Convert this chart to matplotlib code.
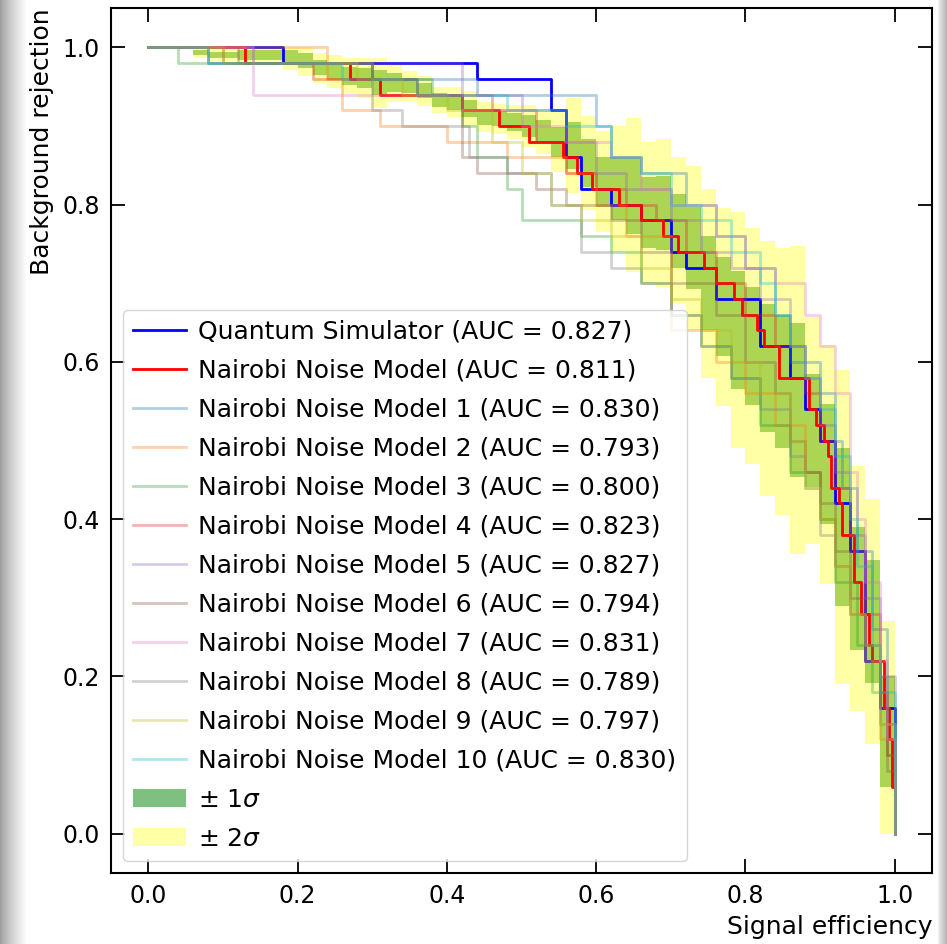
import numpy as np
import matplotlib
matplotlib.use("Agg")
import matplotlib.pyplot as plt

# ROC curves: signal efficiency where the rejection drops, and rejection after the drop
qs_eff = [0.0, 0.18, 0.44, 0.54, 0.56, 0.58, 0.62, 0.66, 0.70, 0.72, 0.76, 0.82, 0.86, 0.88,
          0.90, 0.92, 0.94, 0.96, 0.98, 1.0]
qs_rej = [1.0, 0.98, 0.96, 0.92, 0.86, 0.82, 0.80, 0.78, 0.74, 0.72, 0.68, 0.62, 0.58, 0.54,
          0.50, 0.42, 0.36, 0.22, 0.16, 0.0]

nm_eff = [0.0, 0.13, 0.27, 0.31, 0.42, 0.47, 0.51, 0.555, 0.575, 0.595, 0.63, 0.66, 0.69, 0.71,
          0.745, 0.76, 0.785, 0.795, 0.815, 0.825, 0.845, 0.885, 0.895, 0.905, 0.91, 0.915, 0.925,
          0.93, 0.945, 0.955, 0.965, 0.97, 0.985, 0.993, 0.997, 1.0]
nm_rej = [1.0, 0.98, 0.96, 0.94, 0.92, 0.90, 0.88, 0.86, 0.84, 0.82, 0.80, 0.78, 0.76, 0.74,
          0.72, 0.70, 0.68, 0.66, 0.64, 0.62, 0.58, 0.54, 0.52, 0.50, 0.48, 0.44, 0.42,
          0.38, 0.32, 0.28, 0.24, 0.22, 0.16, 0.12, 0.06, 0.0]

# the ten noise model runs
run_eff = [
    [0.0, 0.08, 0.30, 0.44, 0.60, 0.62, 0.66, 0.72, 0.76, 0.80, 0.84, 0.86, 0.90, 0.92, 0.93, 0.95, 0.97, 0.99, 1.0],
    [0.0, 0.24, 0.26, 0.31, 0.40, 0.48, 0.56, 0.60, 0.64, 0.70, 0.76, 0.80, 0.84, 0.88, 0.90, 0.92, 0.94, 0.96, 0.98, 1.0],
    [0.0, 0.04, 0.30, 0.38, 0.42, 0.44, 0.48, 0.50, 0.58, 0.62, 0.66, 0.70, 0.74, 0.78, 0.82, 0.86, 0.90, 0.92, 0.95, 0.97, 0.99, 1.0],
    [0.0, 0.10, 0.22, 0.36, 0.46, 0.52, 0.56, 0.60, 0.64, 0.68, 0.72, 0.76, 0.80, 0.84, 0.88, 0.90, 0.92, 0.94, 0.96, 0.98, 0.99, 1.0],
    [0.0, 0.14, 0.42, 0.50, 0.56, 0.60, 0.64, 0.70, 0.74, 0.78, 0.82, 0.86, 0.88, 0.90, 0.92, 0.94, 0.96, 0.98, 1.0],
    [0.0, 0.12, 0.30, 0.36, 0.42, 0.44, 0.52, 0.56, 0.62, 0.66, 0.70, 0.76, 0.80, 0.84, 0.86, 0.88, 0.90, 0.92, 0.94, 0.96, 0.98, 0.99, 1.0],
    [0.0, 0.14, 0.42, 0.50, 0.56, 0.62, 0.66, 0.70, 0.76, 0.80, 0.84, 0.88, 0.90, 0.92, 0.94, 0.95, 0.96, 0.98, 0.99, 1.0],
    [0.0, 0.08, 0.30, 0.34, 0.43, 0.48, 0.54, 0.58, 0.62, 0.66, 0.70, 0.74, 0.78, 0.82, 0.86, 0.88, 0.90, 0.92, 0.94, 0.96, 0.98, 1.0],
    [0.0, 0.10, 0.28, 0.34, 0.40, 0.46, 0.50, 0.54, 0.58, 0.62, 0.66, 0.70, 0.74, 0.78, 0.82, 0.86, 0.88, 0.90, 0.92, 0.94, 0.96, 0.98, 1.0],
    [0.0, 0.08, 0.26, 0.36, 0.48, 0.56, 0.62, 0.66, 0.70, 0.74, 0.78, 0.82, 0.84, 0.86, 0.88, 0.90, 0.92, 0.94, 0.95, 0.97, 0.98, 1.0],
]
run_rej = [
    [1.0, 0.98, 0.96, 0.94, 0.90, 0.86, 0.84, 0.80, 0.76, 0.72, 0.66, 0.60, 0.56, 0.50, 0.44, 0.36, 0.26, 0.14, 0.0],
    [1.0, 0.96, 0.92, 0.90, 0.88, 0.86, 0.84, 0.80, 0.76, 0.64, 0.60, 0.56, 0.52, 0.46, 0.40, 0.34, 0.28, 0.22, 0.12, 0.0],
    [1.0, 0.98, 0.96, 0.94, 0.90, 0.86, 0.82, 0.78, 0.76, 0.74, 0.70, 0.66, 0.62, 0.58, 0.52, 0.46, 0.40, 0.32, 0.24, 0.18, 0.10, 0.0],
    [1.0, 0.98, 0.96, 0.94, 0.92, 0.88, 0.84, 0.82, 0.80, 0.78, 0.74, 0.70, 0.66, 0.62, 0.56, 0.50, 0.44, 0.36, 0.28, 0.18, 0.10, 0.0],
    [1.0, 0.98, 0.94, 0.92, 0.88, 0.84, 0.82, 0.78, 0.74, 0.72, 0.68, 0.62, 0.58, 0.52, 0.46, 0.38, 0.30, 0.20, 0.0],
    [1.0, 0.98, 0.96, 0.94, 0.86, 0.84, 0.82, 0.80, 0.78, 0.74, 0.70, 0.66, 0.60, 0.56, 0.50, 0.46, 0.42, 0.36, 0.30, 0.24, 0.16, 0.08, 0.0],
    [1.0, 0.94, 0.92, 0.90, 0.88, 0.86, 0.82, 0.80, 0.76, 0.72, 0.70, 0.66, 0.62, 0.56, 0.46, 0.40, 0.32, 0.22, 0.12, 0.0],
    [1.0, 0.98, 0.92, 0.90, 0.86, 0.84, 0.80, 0.74, 0.72, 0.70, 0.66, 0.62, 0.58, 0.54, 0.48, 0.44, 0.38, 0.34, 0.28, 0.22, 0.14, 0.0],
    [1.0, 0.98, 0.96, 0.94, 0.92, 0.88, 0.84, 0.80, 0.78, 0.76, 0.72, 0.68, 0.64, 0.60, 0.56, 0.50, 0.44, 0.40, 0.34, 0.28, 0.24, 0.14, 0.0],
    [1.0, 0.98, 0.96, 0.94, 0.92, 0.90, 0.86, 0.84, 0.80, 0.78, 0.74, 0.70, 0.66, 0.62, 0.58, 0.54, 0.48, 0.40, 0.34, 0.24, 0.18, 0.0],
]
run_auc = [0.830, 0.793, 0.800, 0.823, 0.827, 0.794, 0.831, 0.789, 0.797, 0.830]
qs_auc = 0.827
nm_auc = 0.811

# band over the runs: mean rejection and spread, on a 0.02 efficiency grid
band_eff = np.round(np.arange(0, 1.0001, 0.02), 2)
band_mean = [1.000, 1.000, 1.000, 0.993, 0.990, 0.990, 0.990, 0.990, 0.990, 0.988,
             0.983, 0.974, 0.969, 0.964, 0.961, 0.955, 0.955, 0.951, 0.945, 0.933,
             0.930, 0.922, 0.911, 0.909, 0.905, 0.900, 0.893, 0.880, 0.875, 0.853,
             0.829, 0.820, 0.812, 0.790, 0.789, 0.767, 0.745, 0.700, 0.670, 0.640,
             0.620, 0.592, 0.575, 0.552, 0.513, 0.470, 0.390, 0.312, 0.270, 0.130,
             0.000]
band_sigma = [0.000, 0.000, 0.000, 0.003, 0.004, 0.004, 0.0065, 0.0065, 0.0065, 0.0085,
              0.0095, 0.0095, 0.0105, 0.0115, 0.0125, 0.016, 0.012, 0.0095, 0.0095, 0.0085,
              0.0095, 0.011, 0.0095, 0.0095, 0.011, 0.0135, 0.0145, 0.019, 0.030, 0.030,
              0.032, 0.040, 0.049, 0.045, 0.047, 0.047, 0.052, 0.060, 0.063, 0.075,
              0.075, 0.081, 0.085, 0.098, 0.072, 0.076, 0.100, 0.078, 0.078, 0.070,
              0.000]

plt.rcParams['font.family'] = ['DejaVu Sans']
fig = plt.figure(figsize=(9.47, 9.44), dpi=100)

# screenshot shadow on the left and right edges
bg = fig.add_axes([0, 0, 1, 1], zorder=-5)
cols = np.arange(947)
shade = np.ones(947)
shade[:26] = 0.62 + 0.38 * (cols[:26] / 26.0) ** 0.8
shade[936:] = 1.0 - 0.30 * ((cols[936:] - 936) / 10.0) ** 0.7
bg.imshow(np.tile(shade, (2, 1)), cmap='gray', vmin=0, vmax=1, aspect='auto',
          extent=[0, 1, 0, 1], interpolation='bilinear')
bg.axis('off')

ax = fig.add_axes([0.1172, 0.0752, 0.8670, 0.9163])
mean = np.array(band_mean)
sig = np.array(band_sigma)

ax.step(qs_eff, qs_rej, where='post', color='blue', lw=2.0,
        label='Quantum Simulator (AUC = {0:.3f})'.format(qs_auc))
ax.step(nm_eff, nm_rej, where='post', color='red', lw=2.0,
        label='Nairobi Noise Model (AUC = {0:.3f})'.format(nm_auc))
for i in range(len(run_eff)):
    ax.step(run_eff[i], run_rej[i], where='post', color='C%d' % i, lw=2.0, alpha=0.35,
            label='Nairobi Noise Model {0} (AUC = {1:.3f})'.format(i + 1, run_auc[i]))

ax.fill_between(band_eff, mean - sig, mean + sig, step='post', color='green', alpha=0.5,
                lw=0, label=r'$\pm$ 1$\sigma$')
ax.fill_between(band_eff, np.clip(mean - 2 * sig, 0, 1), np.clip(mean + 2 * sig, 0, 1),
                step='post', color='yellow', alpha=0.35, lw=0, label=r'$\pm$ 2$\sigma$')

ax.set_xlim(-0.05, 1.05)
ax.set_ylim(-0.05, 1.05)
ax.set_xticks([0.0, 0.2, 0.4, 0.6, 0.8, 1.0])
ax.set_yticks([0.0, 0.2, 0.4, 0.6, 0.8, 1.0])
ax.tick_params(direction='in', top=True, right=True, length=10, width=1.3, labelsize=17, pad=8)
for s in ax.spines.values():
    s.set_linewidth(1.5)
ax.set_xlabel('Signal efficiency', fontsize=18, loc='right', labelpad=5)
ax.set_ylabel('Background rejection', fontsize=18, loc='top', labelpad=6)

ax.legend(loc='lower left', fontsize=18, framealpha=0.8, labelspacing=0.6,
          handlelength=2.1, handletextpad=0.5)

fig.savefig('out.png', dpi=100)
